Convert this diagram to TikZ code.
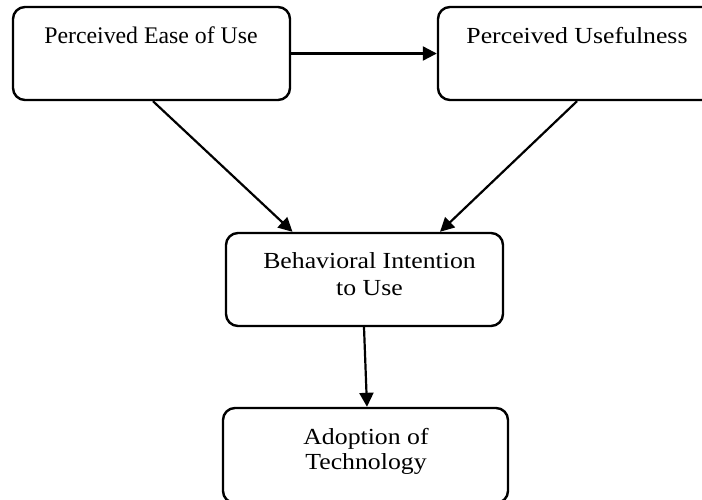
\documentclass[tikz,border=0pt]{standalone}
\usepackage{fontspec}
\setmainfont{Liberation Serif}
\usetikzlibrary{arrows.meta,calc}
\newcommand{\gw}[1]{\scalebox{1.12}[1]{#1}}
\begin{document}
\begin{tikzpicture}[x=1pt,y=-1pt,
  box/.style={draw,line width=2.4pt,rounded corners=12pt,inner sep=0pt},
  lbl/.style={inner sep=0pt,align=center,font=\fontsize{23}{27}\selectfont,anchor=base},
  conn/.style={line width=2.2pt,-{Triangle[length=14pt,width=14pt]}}]
\useasboundingbox (0,0) rectangle (702,499);
\clip (0,0) rectangle (702,499);
\node[box,minimum width=277pt,minimum height=93pt] (b1) at (151.5,53.5) {};
\node[box,minimum width=278pt,minimum height=93pt] (b2) at (577,53.5) {};
\node[box,minimum width=277pt,minimum height=93pt] (b3) at (364.5,279.5) {};
\node[box,minimum width=285pt,minimum height=95pt] (b4) at (365.5,455.5) {};
\node[lbl,font=\fontsize{23.8}{27}\selectfont] (t1) at (151,43) {Perceived Ease of Use};
\node[lbl] (t2) at (577,43) {\gw{Perceived Usefulness}};
\node[lbl] (t3) at (369.5,295) {\gw{Behavioral Intention}\\\gw{to Use}};
\node[lbl,font=\fontsize{23}{25}\selectfont] (t4) at (366,469) {\gw{Adoption of}\\\gw{Technology}};
\draw[conn] (b1.east) -- (b2.west);
\draw[conn] ($(b1.south)+(1.5,0)$) -- ($(b3.north)+(-72,0)$);
\draw[conn] (b2.south) -- ($(b3.north)+(75.5,0)$);
\draw[conn] ($(b3.south)+(-0.5,0)$) -- ($(b4.north)+(1.5,0)$);
\end{tikzpicture}
\end{document}
